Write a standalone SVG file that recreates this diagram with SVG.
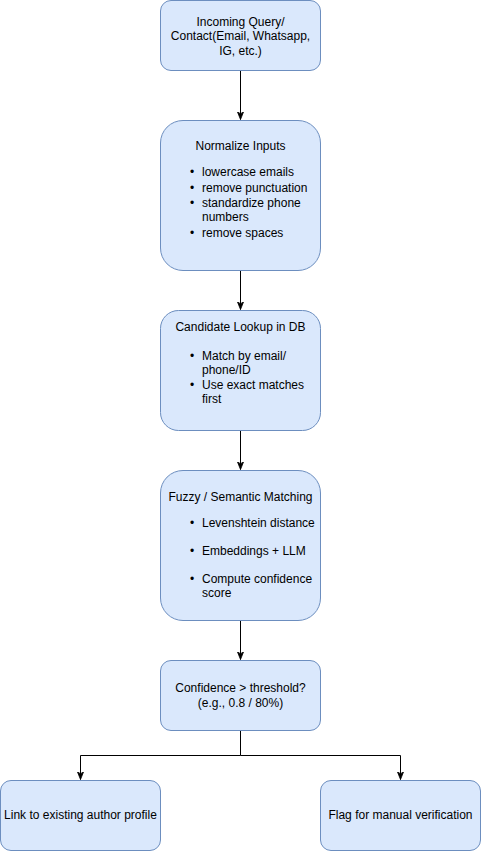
<svg xmlns="http://www.w3.org/2000/svg" width="481" height="851" viewBox="0 0 481 851">
  <style>
    .box { fill: #dae8fc; stroke: #6c8ebf; stroke-width: 1; }
    .lbl { font-family: "Liberation Sans", Arial, Helvetica, sans-serif; font-size: 12px; fill: #000000; }
    .mid { text-anchor: middle; }
    .edge { fill: none; stroke: #000000; stroke-width: 1; }
  </style>
  <defs>
    <marker id="arrow" viewBox="0 0 10 10" markerUnits="userSpaceOnUse" markerWidth="8" markerHeight="8" refX="10" refY="5" orient="auto">
      <path d="M0,1 L10,5 L0,9 L3,5 z" fill="#000000" stroke="#000000" stroke-width="1"/>
    </marker>
  </defs>
  <rect width="481" height="851" fill="#ffffff"/>

  <!-- connectors -->
  <g id="edges">
    <path class="edge" d="M240.5,70.5 L240.5,119.5" marker-end="url(#arrow)"/>
    <path class="edge" d="M240.5,270.5 L240.5,309.5" marker-end="url(#arrow)"/>
    <path class="edge" d="M240.5,430.5 L240.5,469.5" marker-end="url(#arrow)"/>
    <path class="edge" d="M240.5,620.5 L240.5,659.5" marker-end="url(#arrow)"/>
    <path class="edge" d="M240.5,730.5 L240.5,755.5 L80.5,755.5 L80.5,779.5" marker-end="url(#arrow)"/>
    <path class="edge" d="M240.5,755.5 L400.5,755.5 L400.5,779.5" marker-end="url(#arrow)"/>
  </g>

  <g id="incoming">
    <rect class="box" x="160.5" y="0.5" width="160" height="70" rx="10.5" ry="10.5"/>
    <text class="lbl mid" x="240.5" y="25.5">Incoming Query/</text>
    <text class="lbl mid" x="240.5" y="40">Contact(Email, Whatsapp,</text>
    <text class="lbl mid" x="240.5" y="54.5">IG, etc.)</text>
  </g>

  <g id="normalize">
    <rect class="box" x="160.5" y="120.5" width="160" height="150" rx="22.5" ry="22.5"/>
    <text class="lbl mid" x="240.5" y="150">Normalize Inputs</text>
    <text class="lbl" x="190" y="176">•</text>
    <text class="lbl" x="202" y="176">lowercase emails</text>
    <text class="lbl" x="190" y="192">•</text>
    <text class="lbl" x="202" y="192">remove punctuation</text>
    <text class="lbl" x="190" y="207">•</text>
    <text class="lbl" x="202" y="207">standardize phone</text>
    <text class="lbl" x="202" y="221">numbers</text>
    <text class="lbl" x="190" y="237">•</text>
    <text class="lbl" x="202" y="237">remove spaces</text>
  </g>

  <g id="lookup">
    <rect class="box" x="160.5" y="310.5" width="160" height="120" rx="18" ry="18"/>
    <text class="lbl mid" x="240.5" y="331">Candidate Lookup in DB</text>
    <text class="lbl" x="190" y="360">•</text>
    <text class="lbl" x="202" y="360">Match by email/</text>
    <text class="lbl" x="202" y="374">phone/ID</text>
    <text class="lbl" x="190" y="389">•</text>
    <text class="lbl" x="202" y="389">Use exact matches</text>
    <text class="lbl" x="202" y="403">first</text>
  </g>

  <g id="fuzzy">
    <rect class="box" x="160.5" y="470.5" width="160" height="150" rx="22.5" ry="22.5"/>
    <text class="lbl mid" x="240.5" y="501">Fuzzy / Semantic Matching</text>
    <text class="lbl" x="190" y="527">•</text>
    <text class="lbl" x="202" y="527">Levenshtein distance</text>
    <text class="lbl" x="190" y="555">•</text>
    <text class="lbl" x="202" y="555">Embeddings + LLM</text>
    <text class="lbl" x="190" y="583">•</text>
    <text class="lbl" x="202" y="583">Compute confidence</text>
    <text class="lbl" x="202" y="597">score</text>
  </g>

  <g id="decision">
    <rect class="box" x="160.5" y="660.5" width="160" height="70" rx="10.5" ry="10.5"/>
    <text class="lbl mid" x="240.5" y="692">Confidence &gt; threshold?</text>
    <text class="lbl mid" x="240.5" y="707">(e.g., 0.8 / 80%)</text>
  </g>

  <g id="link-profile">
    <rect class="box" x="0.5" y="780.5" width="160" height="70" rx="10.5" ry="10.5"/>
    <text class="lbl mid" x="80.5" y="819">Link to existing author profile</text>
  </g>

  <g id="manual-verify">
    <rect class="box" x="320.5" y="780.5" width="160" height="70" rx="10.5" ry="10.5"/>
    <text class="lbl mid" x="400.5" y="819">Flag for manual verification</text>
  </g>
</svg>
